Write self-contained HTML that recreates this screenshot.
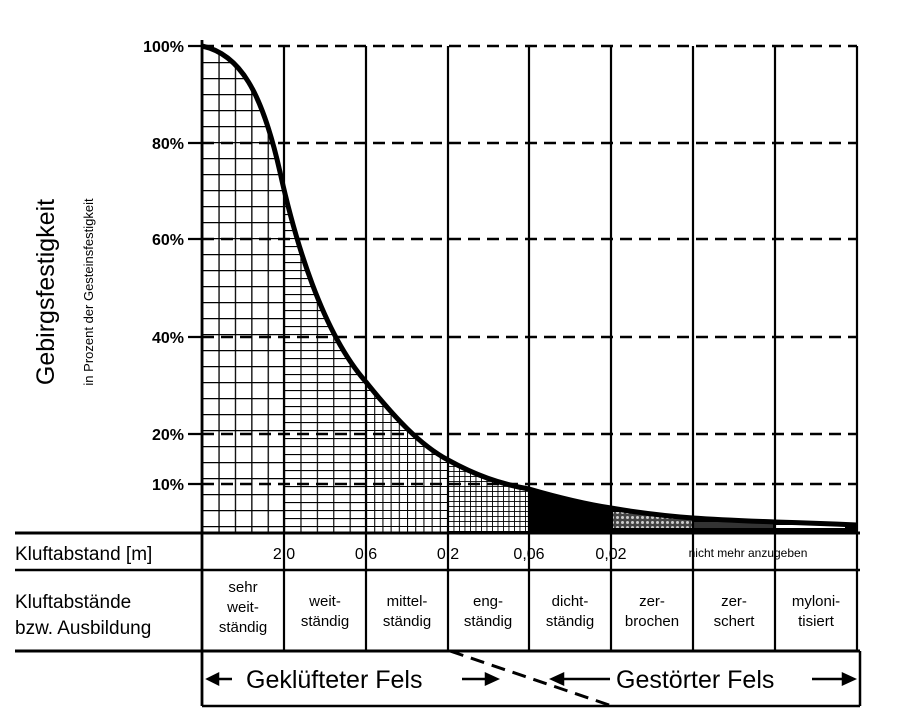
<!DOCTYPE html>
<html><head><meta charset="utf-8"><style>
html,body{margin:0;padding:0;background:#fff;}
svg text{font-family:"Liberation Sans",Arial,sans-serif;fill:#000;}
</style></head><body>
<svg width="903" height="720" viewBox="0 0 903 720" xmlns="http://www.w3.org/2000/svg">
<defs>
<clipPath id="under"><path d="M202,46 C240,54 262,92 280,172 C295,240 322,332 366,382 C395,418 420,445 448,460 C475,475 500,484 529,489 C560,498 585,504 611,508 C640,513 665,516 693,518 C720,520 750,521 775,522 C810,523 835,524 857,525 L857,533 L202,533 Z"/></clipPath>
<pattern id="p1" x="202" y="46" width="16.4" height="16" patternUnits="userSpaceOnUse"><path d="M0,0V16M0,0H16.4" stroke="#000" stroke-width="2.6" fill="none"/></pattern>
<pattern id="p2" x="284" y="46" width="16.4" height="8" patternUnits="userSpaceOnUse"><path d="M0,0V8M0,0H16.4" stroke="#000" stroke-width="2.3" fill="none"/></pattern>
<pattern id="p3" x="366" y="46" width="8.2" height="8" patternUnits="userSpaceOnUse"><path d="M0,0V8M0,0H8.2" stroke="#000" stroke-width="2.1" fill="none"/></pattern>
<pattern id="p4" x="448" y="46" width="5.5" height="5" patternUnits="userSpaceOnUse"><path d="M0,0V5M0,0H5.5" stroke="#000" stroke-width="1.8" fill="none"/></pattern>
<pattern id="p6" width="5" height="5" patternUnits="userSpaceOnUse"><rect width="5" height="5" fill="#444"/><circle cx="2.5" cy="2.5" r="1.5" fill="#ccc"/></pattern>
</defs>

<g clip-path="url(#under)">
<rect x="202" y="40" width="82" height="495" fill="url(#p1)"/>
<rect x="284" y="40" width="82" height="495" fill="url(#p2)"/>
<rect x="366" y="40" width="82" height="495" fill="url(#p3)"/>
<rect x="448" y="40" width="81" height="495" fill="url(#p4)"/>
<rect x="529" y="40" width="328" height="495" fill="#000"/>
<rect x="613" y="512" width="80" height="16" fill="url(#p6)"/>
<rect x="693" y="522" width="80" height="6" fill="#333"/>
<rect x="775" y="525" width="70" height="3" fill="#fff"/>
</g>

<g stroke="#000" stroke-width="2.4" stroke-dasharray="12,7" fill="none">
<path d="M202,46H857M202,143H857M202,239H857M202,337H857M202,434H857M202,484H857"/>
</g>
<g stroke="#000" stroke-width="2.2" fill="none">
<path d="M284,46V572M366,46V572M448,46V572M529,46V572M611,46V572M693,46V572M775,46V572M857,46V572"/>
<path d="M202,40V706" stroke-width="2.8"/>
<path d="M188,46H202M188,143H202M188,239H202M188,337H202M188,434H202M188,484H202"/>
<path d="M15,533H860" stroke-width="3"/>
<path d="M15,570H860" stroke-width="2.5"/>
<path d="M284,570V651M366,570V651M448,570V651M529,570V651M611,570V651M693,570V651M775,570V651M857,570V651"/>
<path d="M15,651H860" stroke-width="3"/>
<path d="M860,651V706M202,706H860" stroke-width="2.5"/>
<path d="M450,651L612,706" stroke-width="3" stroke-dasharray="14,8"/>
</g>
<path d="M202,46 C240,54 262,92 280,172 C295,240 322,332 366,382 C395,418 420,445 448,460 C475,475 500,484 529,489 C560,498 585,504 611,508 C640,513 665,516 693,518 C720,520 750,521 775,522 C810,523 835,524 857,525" stroke="#000" stroke-width="5" fill="none"/>

<g font-size="16" font-weight="bold" text-anchor="end">
<text x="184" y="52">100%</text>
<text x="184" y="149">80%</text>
<text x="184" y="245">60%</text>
<text x="184" y="343">40%</text>
<text x="184" y="440">20%</text>
<text x="184" y="490">10%</text>
</g>
<text transform="translate(54,292) rotate(-90)" font-size="25" text-anchor="middle">Gebirgsfestigkeit</text>
<text transform="translate(93,292) rotate(-90)" font-size="13" text-anchor="middle">in Prozent der Gesteinsfestigkeit</text>

<text x="15" y="560" font-size="19">Kluftabstand [m]</text>
<g font-size="16" text-anchor="middle">
<text x="284" y="559">2,0</text><text x="366" y="559">0,6</text><text x="448" y="559">0,2</text><text x="529" y="559">0,06</text><text x="611" y="559">0,02</text>
</g>
<text x="748" y="557" font-size="12" text-anchor="middle">nicht mehr anzugeben</text>
<text x="15" y="608" font-size="19">Kluftabstände</text>
<text x="15" y="634" font-size="19">bzw. Ausbildung</text>
<g font-size="15" text-anchor="middle">
<text x="243" y="592">sehr</text><text x="243" y="612">weit-</text><text x="243" y="632">ständig</text>
<text x="325" y="606">weit-</text><text x="325" y="626">ständig</text>
<text x="407" y="606">mittel-</text><text x="407" y="626">ständig</text>
<text x="488" y="606">eng-</text><text x="488" y="626">ständig</text>
<text x="570" y="606">dicht-</text><text x="570" y="626">ständig</text>
<text x="652" y="606">zer-</text><text x="652" y="626">brochen</text>
<text x="734" y="606">zer-</text><text x="734" y="626">schert</text>
<text x="816" y="606">myloni-</text><text x="816" y="626">tisiert</text>
</g>
<text x="246" y="688" font-size="25">Geklüfteter Fels</text>
<text x="616" y="688" font-size="25">Gestörter Fels</text>
<g stroke="#000" stroke-width="2.5" fill="#000">
<path d="M212,679H232" fill="none"/><path d="M208,679L218,674L218,684Z"/>
<path d="M462,679H488" fill="none"/><path d="M497,679L486,674L486,684Z"/>
<path d="M560,679H610" fill="none"/><path d="M552,679L563,674L563,684Z"/>
<path d="M812,679H845" fill="none"/><path d="M854,679L843,674L843,684Z"/>
</g>
</svg>
</body></html>
